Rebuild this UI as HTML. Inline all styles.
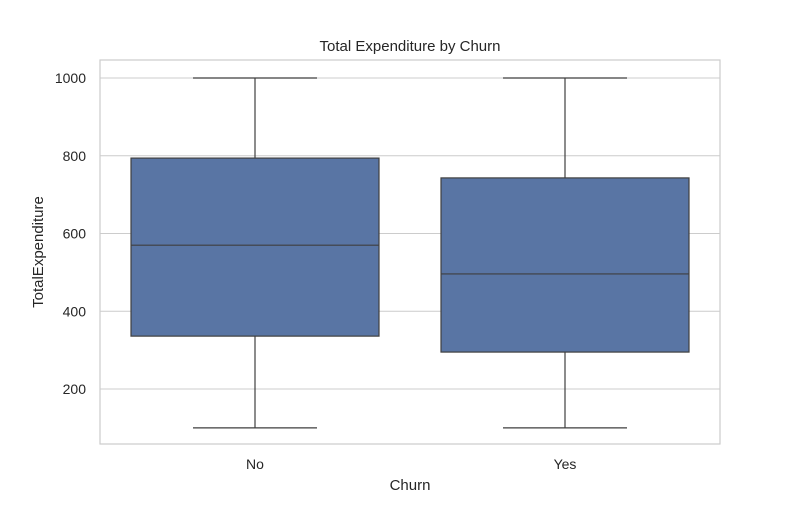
<!DOCTYPE html>
<html><head><meta charset="utf-8"><style>
body{margin:0;background:#fff}
text{font-family:"Liberation Sans","DejaVu Sans",sans-serif;fill:#262626}
</style></head><body>
<svg id="chart" width="800" height="500" xmlns="http://www.w3.org/2000/svg">
<rect width="800" height="500" fill="#fff"/>
<g id="grid"></g>
<rect x="100" y="60" width="620" height="384" fill="none" stroke="#cccccc" stroke-width="1.2"/>
<g id="boxes"></g>
<g id="ticks"></g>
<text x="410" y="51" font-size="15" text-anchor="middle">Total Expenditure by Churn</text>
<text x="410" y="490" font-size="15" text-anchor="middle">Churn</text>
<text transform="translate(43,252) rotate(-90)" font-size="15" text-anchor="middle">TotalExpenditure</text>
</svg>
<script>
const categories=["No","Yes"];
const mins=[100,100];
const q1s=[336,295];
const medians=[570,496];
const q3s=[794,743];
const maxs=[1000,1000];
const yTicks=[200,400,600,800,1000];
const NS="http://www.w3.org/2000/svg";
const y=v=>78+(1000-v)*0.38875;
const x=i=>255+i*310;
function mk(tag,attrs,parent){const e=document.createElementNS(NS,tag);for(const k in attrs)e.setAttribute(k,attrs[k]);parent.appendChild(e);return e;}
const grid=document.getElementById('grid'),ticks=document.getElementById('ticks'),boxes=document.getElementById('boxes');
yTicks.forEach(t=>{
 const l=mk('line',{x1:100,x2:720,y1:y(t),y2:y(t),stroke:'#cccccc','stroke-width':1.1},grid);
 
 
 const tx=mk('text',{x:86,y:y(t)+5,'font-size':14,'text-anchor':'end'},ticks);
 tx.textContent=t;
 
 
});
categories.forEach((c,i)=>{
 const cx=x(i),hw=124,cw=62,st='#3f3f3f';
 const g=mk('g',{},boxes);
 
 
 mk('line',{x1:cx,x2:cx,y1:y(q1s[i]),y2:y(mins[i]),stroke:st,'stroke-width':1.2},g);
 mk('line',{x1:cx,x2:cx,y1:y(q3s[i]),y2:y(maxs[i]),stroke:st,'stroke-width':1.2},g);
 mk('line',{x1:cx-cw,x2:cx+cw,y1:y(mins[i]),y2:y(mins[i]),stroke:st,'stroke-width':1.2},g);
 mk('line',{x1:cx-cw,x2:cx+cw,y1:y(maxs[i]),y2:y(maxs[i]),stroke:st,'stroke-width':1.2},g);
 mk('rect',{x:cx-hw,y:y(q3s[i]),width:2*hw,height:y(q1s[i])-y(q3s[i]),fill:'#5975a4',stroke:st,'stroke-width':1.2},g);
 mk('line',{x1:cx-hw,x2:cx+hw,y1:y(medians[i]),y2:y(medians[i]),stroke:st,'stroke-width':1.2},g);
 const tx=mk('text',{x:cx,y:469,'font-size':14,'text-anchor':'middle'},ticks);
 tx.textContent=c;
 
 
});
</script>
</body></html>
